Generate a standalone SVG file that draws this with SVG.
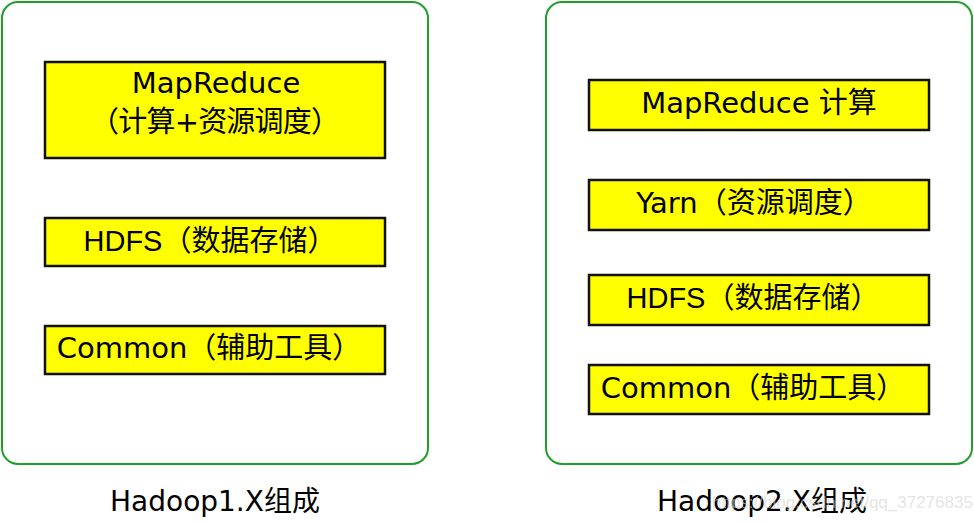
<svg xmlns="http://www.w3.org/2000/svg" width="974" height="522" viewBox="0 0 974 522">
<style>
.frame{fill:#fff;stroke:#1f9e2b;stroke-width:2}
.box{fill:#ffff00;stroke:#111;stroke-width:2.5}
.t{font-family:"DejaVu Sans","Noto Sans CJK SC",sans-serif;font-size:29px;fill:#000;text-anchor:middle}
.a{font-family:"Liberation Sans","Noto Sans CJK SC",sans-serif;font-size:29px;fill:#000;text-anchor:middle}
.cap{font-family:"DejaVu Sans","Noto Sans CJK SC",sans-serif;font-size:28px;fill:#000;text-anchor:middle}
.wm{font-family:"Liberation Sans",sans-serif;font-size:17px;fill:#d4d4d4;opacity:0.6}
</style>
<rect width="974" height="522" fill="#fff"/>
<g id="hadoop1">
<rect class="frame" x="2" y="2" width="426" height="462" rx="16"/>
</g>
<g id="hadoop2">
<rect class="frame" x="546" y="2" width="426" height="462" rx="16"/>
</g>
<g id="h1-mapreduce">
<rect class="box" x="45" y="62" width="340" height="96"/>
<text class="t" x="216" y="93">MapReduce</text>
<text class="t" x="215" y="132" textLength="250">（计算+资源调度）</text>
</g>
<g id="h1-hdfs">
<rect class="box" x="45" y="218" width="340" height="48"/>
<text class="a" x="210" y="251">HDFS（数据存储）</text>
</g>
<g id="h1-common">
<rect class="box" x="45" y="326" width="340" height="48"/>
<text class="t" x="209" y="358">Common（辅助工具）</text>
</g>
<g id="h2-mapreduce">
<rect class="box" x="589" y="80" width="340" height="50"/>
<text class="t" x="759" y="113">MapReduce 计算</text>
</g>
<g id="h2-yarn">
<rect class="box" x="589" y="180" width="340" height="50"/>
<text class="t" x="754" y="213">Yarn（资源调度）</text>
</g>
<g id="h2-hdfs">
<rect class="box" x="589" y="275" width="340" height="50"/>
<text class="a" x="753" y="308">HDFS（数据存储）</text>
</g>
<g id="h2-common">
<rect class="box" x="589" y="365" width="340" height="49"/>
<text class="t" x="753" y="398">Common（辅助工具）</text>
</g>
<g id="labels">
<text class="cap" x="215" y="511">Hadoop1.X组成</text>
<text class="cap" x="762" y="511">Hadoop2.X组成</text>
</g>
<g id="connectors"></g>
<text class="wm" x="712" y="508">https://blog.csdn.net/qq_37276835</text>
</svg>
